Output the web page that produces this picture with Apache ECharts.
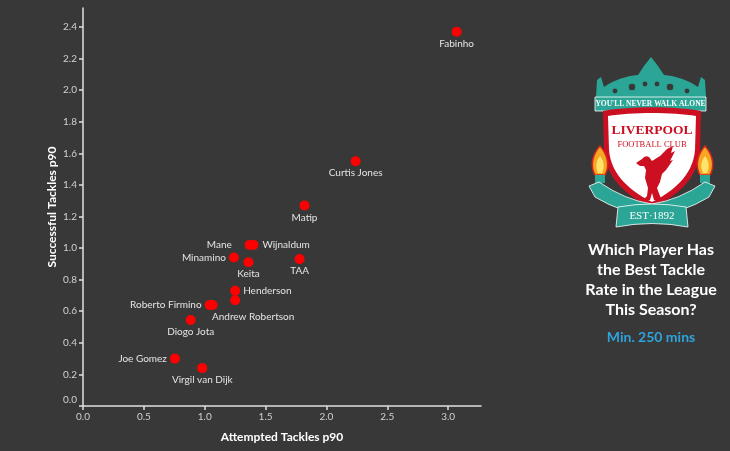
<html>
    <head>
        <meta charset="utf-8">
        <style>
            html, body { margin: 0; padding: 0; background: #383838; }
            #main { width: 730px; height: 451px; }
        </style>
    </head>
    <body>
        <div id="main"></div>
        <script src="https://cdn.jsdelivr.net/npm/echarts@6/dist/echarts.min.js"></script>
        <script>
            // players and their tackle numbers (per 90)
            var players = ['Fabinho', 'Curtis Jones', 'Matip', 'Mane', 'Wijnaldum', 'Minamino', 'Keita', 'TAA',
                'Henderson', 'Andrew Robertson', 'Roberto Firmino', '', 'Diogo Jota', 'Joe Gomez', 'Virgil van Dijk'];
            var attempted = [3.07, 2.24, 1.82, 1.37, 1.40, 1.24, 1.36, 1.78, 1.25, 1.25, 1.04, 1.065, 0.885, 0.755, 0.98];
            var successful = [2.37, 1.55, 1.27, 1.02, 1.02, 0.94, 0.91, 0.93, 0.73, 0.67, 0.64, 0.64, 0.545, 0.30, 0.24];

            var xTicks = [0, 0.5, 1, 1.5, 2, 2.5, 3];
            var yTicks = [0, 0.2, 0.4, 0.6, 0.8, 1.0, 1.2, 1.4, 1.6, 1.8, 2.0, 2.2, 2.4];

            // where each label sits relative to its dot
            var labelStyle = {
                'Mane': { position: 'left', distance: 13 },
                'Wijnaldum': { position: 'right', distance: 4 },
                'Minamino': { position: 'left', distance: 3 },
                'Henderson': { position: 'right', distance: 3 },
                'Roberto Firmino': { position: 'left', distance: 3 },
                'Joe Gomez': { position: 'left', distance: 3 },
                'Andrew Robertson': { position: [23, 17], distance: 0 }
            };

            var points = players.map(function (name, i) {
                var ls = labelStyle[name] || { position: 'bottom', distance: 2 };
                var lbl = {
                    show: name !== '',
                    position: ls.position,
                    distance: ls.distance
                };
                if (Array.isArray(ls.position)) {
                    lbl.align = 'center';
                    lbl.verticalAlign = 'top';
                }
                return { name: name, value: [attempted[i], successful[i]], label: lbl };
            });

            // graphic component has no plain svg path type, so register them
            function svgShape(name, d) {
                echarts.graphic.registerShape(name, echarts.graphic.extendPath(d, {}));
                return name;
            }

            var axisText = { color: '#d0d0d0', fontSize: 10, fontFamily: 'Lato' };
            var nameText = { color: '#ffffff', fontSize: 12, fontWeight: 'bold', fontFamily: 'Lato' };
            var lineStyle = { color: '#e0e0e0', width: 1.5 };

            var teal = '#2aa596';
            var red = '#cc1022';

            var chart = echarts.init(document.getElementById('main'));
            chart.setOption({
                backgroundColor: '#383838',
                animation: false,
                grid: { left: 83, right: 249, top: 8, bottom: 45 },
                xAxis: {
                    type: 'value',
                    min: 0,
                    max: 3.27,
                    name: 'Attempted Tackles p90',
                    nameLocation: 'middle',
                    nameGap: 25,
                    nameMoveOverlap: false,
                    nameTextStyle: nameText,
                    splitLine: { show: false },
                    axisLine: { show: true, lineStyle: lineStyle },
                    axisTick: { show: true, length: 4, lineStyle: lineStyle, customValues: xTicks },
                    axisLabel: Object.assign({
                        margin: 6,
                        customValues: xTicks,
                        formatter: function (v) { return v.toFixed(1); }
                    }, axisText)
                },
                yAxis: {
                    type: 'value',
                    min: 0,
                    max: 2.52,
                    name: 'Successful Tackles p90',
                    nameLocation: 'middle',
                    nameGap: 25,
                    nameMoveOverlap: false,
                    nameTextStyle: nameText,
                    splitLine: { show: false },
                    axisLine: { show: true, lineStyle: lineStyle },
                    axisTick: { show: true, length: 4, lineStyle: lineStyle, customValues: yTicks },
                    axisLabel: Object.assign({
                        margin: 6,
                        customValues: yTicks,
                        // the zero label sits a little above the corner
                        formatter: function (v) { return v === 0 ? '{z|0.0}' : v.toFixed(1); },
                        rich: { z: { padding: [0, 0, 12, 0], fontSize: 10, fontFamily: 'Lato', color: '#d0d0d0' } }
                    }, axisText)
                },
                series: [{
                    type: 'scatter',
                    symbolSize: 10,
                    itemStyle: { color: '#ff0000', opacity: 1 },
                    label: {
                        formatter: '{b}',
                        color: '#e4e4e4',
                        fontSize: 10,
                        fontFamily: 'Lato'
                    },
                    data: points
                }],
                graphic: [
                    // crest: gates on top
                    {
                        type: svgShape('crestGates', 'M596 97 L597 80 L601 77 L604 87 C614 80 626 76 638 75 L644 66 L651 57 L658 66 L664 75 C676 76 688 80 698 87 L701 77 L705 80 L706 97 Z'),
                        style: { fill: teal }
                    },
                    { type: 'circle', shape: { cx: 632, cy: 87, r: 4 }, style: { fill: '#383838', stroke: teal, lineWidth: 1.5 } },
                    { type: 'circle', shape: { cx: 645, cy: 84, r: 3 }, style: { fill: '#383838', stroke: teal, lineWidth: 1.2 } },
                    { type: 'circle', shape: { cx: 657, cy: 84, r: 3 }, style: { fill: '#383838', stroke: teal, lineWidth: 1.2 } },
                    { type: 'circle', shape: { cx: 670, cy: 87, r: 4 }, style: { fill: '#383838', stroke: teal, lineWidth: 1.5 } },
                    { type: 'circle', shape: { cx: 615, cy: 91, r: 3 }, style: { fill: '#383838', stroke: teal, lineWidth: 1.2 } },
                    { type: 'circle', shape: { cx: 687, cy: 91, r: 3 }, style: { fill: '#383838', stroke: teal, lineWidth: 1.2 } },
                    // banner
                    {
                        type: 'rect',
                        shape: { x: 595, y: 97, width: 111, height: 14 },
                        style: { fill: teal, stroke: '#ffffff', lineWidth: 0.8 }
                    },
                    {
                        type: 'text',
                        x: 650.5, y: 104.5,
                        style: {
                            text: "YOU'LL NEVER WALK ALONE", fill: '#ffffff', fontSize: 7.5,
                            fontFamily: 'Liberation Serif', fontWeight: 'bold', align: 'center', verticalAlign: 'middle'
                        }
                    },
                    // shield
                    {
                        type: svgShape('crestShieldOuter', 'M603 111 C630 106 674 106 701 111 L700 150 C698 180 675 197 652 208 C629 197 606 180 604 150 Z'),
                        style: { fill: red }
                    },
                    {
                        type: svgShape('crestShieldInner', 'M608 116 C632 112 672 112 696 116 L695 150 C693 176 672 192 652 202 C632 192 611 176 609 150 Z'),
                        style: { fill: '#ffffff' }
                    },
                    {
                        type: 'text',
                        x: 652, y: 131,
                        style: {
                            text: 'LIVERPOOL', fill: red, fontSize: 13.5, fontWeight: 'bold',
                            fontFamily: 'Liberation Serif', align: 'center', verticalAlign: 'middle'
                        }
                    },
                    {
                        type: 'text',
                        x: 652, y: 145,
                        style: {
                            text: 'FOOTBALL CLUB', fill: red, fontSize: 8.5,
                            fontFamily: 'Liberation Serif', align: 'center', verticalAlign: 'middle'
                        }
                    },
                    // liver bird
                    {
                        type: svgShape('crestBird', 'M636 163 L642 159 Q645 155 649 157 L652 161 L660 156 L667 149 L673 146 L671 153 L675 151 L670 161 L673 160 L666 170 L662 174 L660 182 L657 188 L660 196 L662 200 L654 200 L652 193 L650 200 L643 200 L647 196 L648 188 L645 178 L646 170 L644 166 L640 166 Z'),
                        style: { fill: red }
                    },
                    // flames
                    {
                        type: svgShape('crestFlameL', 'M600 146 C608 155 610 166 605 175 L595 175 C590 166 592 155 600 146 Z'),
                        style: { fill: '#f5a623', stroke: '#d8261c', lineWidth: 1.5 }
                    },
                    {
                        type: svgShape('crestFlameR', 'M705 146 C713 155 715 166 710 175 L700 175 C695 166 697 155 705 146 Z'),
                        style: { fill: '#f5a623', stroke: '#d8261c', lineWidth: 1.5 }
                    },
                    {
                        type: svgShape('crestFlameInL', 'M600 156 C604 161 605 167 602 173 L598 173 C595 167 596 161 600 156 Z'),
                        style: { fill: '#ffe36a' }
                    },
                    {
                        type: svgShape('crestFlameInR', 'M705 156 C709 161 710 167 707 173 L703 173 C700 167 701 161 705 156 Z'),
                        style: { fill: '#ffe36a' }
                    },
                    { type: 'rect', shape: { x: 595, y: 175, width: 10, height: 8 }, style: { fill: teal } },
                    { type: 'rect', shape: { x: 700, y: 175, width: 10, height: 8 }, style: { fill: teal } },
                    // bottom ribbon
                    {
                        type: svgShape('crestRibbon', 'M589 186 L599 182 Q625 200 652 204 Q679 200 705 182 L715 186 L709 197 Q681 214 652 215 Q623 214 595 197 Z'),
                        style: { fill: teal, stroke: '#ffffff', lineWidth: 0.8 }
                    },
                    {
                        type: svgShape('crestEst', 'M618 207 Q652 201 686 207 L688 227 Q652 220 616 227 Z'),
                        style: { fill: teal, stroke: '#ffffff', lineWidth: 0.8 }
                    },
                    {
                        type: 'text',
                        x: 652, y: 216.5,
                        style: {
                            text: 'EST·1892', fill: '#ffffff', fontSize: 11,
                            fontFamily: 'Liberation Serif', align: 'center', verticalAlign: 'middle'
                        }
                    },
                    // question text
                    {
                        type: 'text',
                        x: 651, y: 279.5,
                        style: {
                            text: 'Which Player Has\nthe Best Tackle\nRate in the League\nThis Season?',
                            fill: '#ffffff', fontSize: 16, fontWeight: 'bold', lineHeight: 20,
                            fontFamily: 'Lato', align: 'center', verticalAlign: 'middle'
                        }
                    },
                    {
                        type: 'text',
                        x: 651, y: 337.5,
                        style: {
                            text: 'Min. 250 mins', fill: '#2ea3dc', fontSize: 14, fontWeight: 'bold',
                            fontFamily: 'Lato', align: 'center', verticalAlign: 'middle'
                        }
                    }
                ]
            });

            window.onresize = chart.resize;
        </script>
    </body>
</html>
